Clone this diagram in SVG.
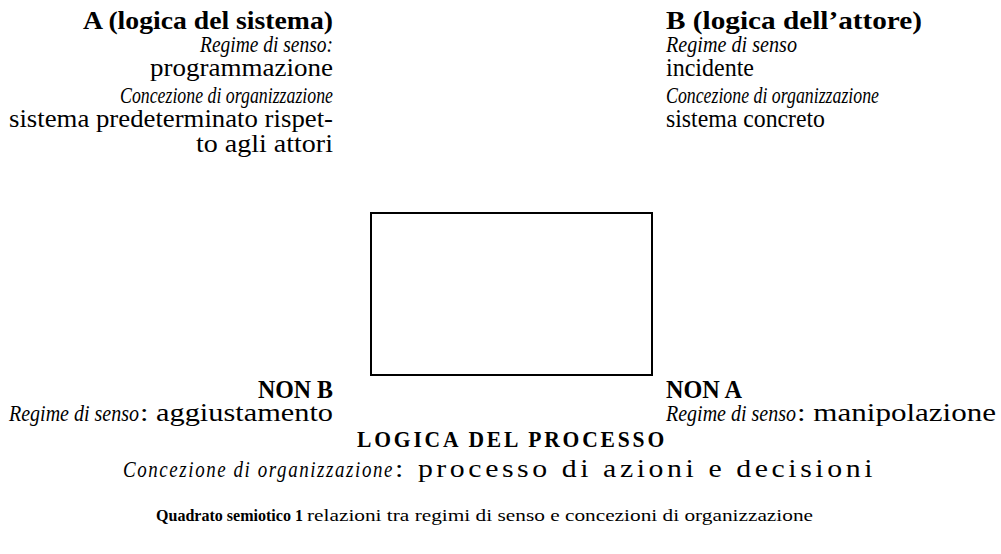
<svg xmlns="http://www.w3.org/2000/svg" width="1001" height="554" viewBox="0 0 1001 554">
  <style>
    text { font-family: "Liberation Serif", "DejaVu Serif", serif; fill: #000; font-size: 25px; }
    .b { font-weight: bold; }
    .i { font-style: italic; font-size: 24px; }
    .cap { font-size: 17px; }
  </style>
  <rect width="1001" height="554" fill="#fff"/>
  <g id="connectors">
    <rect x="371" y="213" width="281" height="162" fill="none" stroke="#000" stroke-width="2"/>
  </g>
  <g id="nodeA">
    <text class="b" x="83" y="29" textLength="250" lengthAdjust="spacingAndGlyphs">A (logica del sistema)</text>
    <text class="i" x="200" y="52" textLength="133" lengthAdjust="spacingAndGlyphs">Regime di senso:</text>
    <text x="150" y="76" textLength="183" lengthAdjust="spacingAndGlyphs">programmazione</text>
    <text class="i" x="120" y="103" textLength="213" lengthAdjust="spacingAndGlyphs">Concezione di organizzazione</text>
    <text x="9" y="127" textLength="324" lengthAdjust="spacingAndGlyphs">sistema predeterminato rispet-</text>
    <text x="196" y="152" textLength="137" lengthAdjust="spacingAndGlyphs">to agli attori</text>
  </g>
  <g id="nodeB">
    <text class="b" x="666" y="29" textLength="256" lengthAdjust="spacingAndGlyphs">B (logica dell’attore)</text>
    <text class="i" x="666" y="52" textLength="131" lengthAdjust="spacingAndGlyphs">Regime di senso</text>
    <text x="666" y="76" textLength="88" lengthAdjust="spacingAndGlyphs">incidente</text>
    <text class="i" x="666" y="103" textLength="213" lengthAdjust="spacingAndGlyphs">Concezione di organizzazione</text>
    <text x="666" y="127" textLength="159" lengthAdjust="spacingAndGlyphs">sistema concreto</text>
  </g>
  <g id="nodeNonB">
    <text class="b" x="258" y="398" textLength="75" lengthAdjust="spacingAndGlyphs">NON B</text>
    <text y="421"><tspan class="i" x="9" textLength="130" lengthAdjust="spacingAndGlyphs">Regime di senso</tspan><tspan x="140" textLength="193" lengthAdjust="spacingAndGlyphs">: aggiustamento</tspan></text>
  </g>
  <g id="nodeNonA">
    <text class="b" x="666" y="398" textLength="76" lengthAdjust="spacingAndGlyphs">NON A</text>
    <text y="421"><tspan class="i" x="666" textLength="130" lengthAdjust="spacingAndGlyphs">Regime di senso</tspan><tspan x="797" textLength="199" lengthAdjust="spacingAndGlyphs">: manipolazione</tspan></text>
  </g>
  <g id="process">
    <text class="b" x="357" y="447" textLength="310" lengthAdjust="spacingAndGlyphs" letter-spacing="3" style="font-size:23px">LOGICA DEL PROCESSO</text>
    <text y="477"><tspan class="i" x="123" textLength="271" lengthAdjust="spacingAndGlyphs" letter-spacing="2">Concezione di organizzazione</tspan><tspan x="395" textLength="481" lengthAdjust="spacingAndGlyphs" letter-spacing="3">: processo di azioni e decisioni</tspan></text>
  </g>
  <g id="caption">
    <text class="cap" y="521"><tspan class="b" x="156" textLength="147" lengthAdjust="spacingAndGlyphs">Quadrato semiotico 1</tspan><tspan x="307" textLength="506" lengthAdjust="spacingAndGlyphs">relazioni tra regimi di senso e concezioni di organizzazione</tspan></text>
  </g>
</svg>
